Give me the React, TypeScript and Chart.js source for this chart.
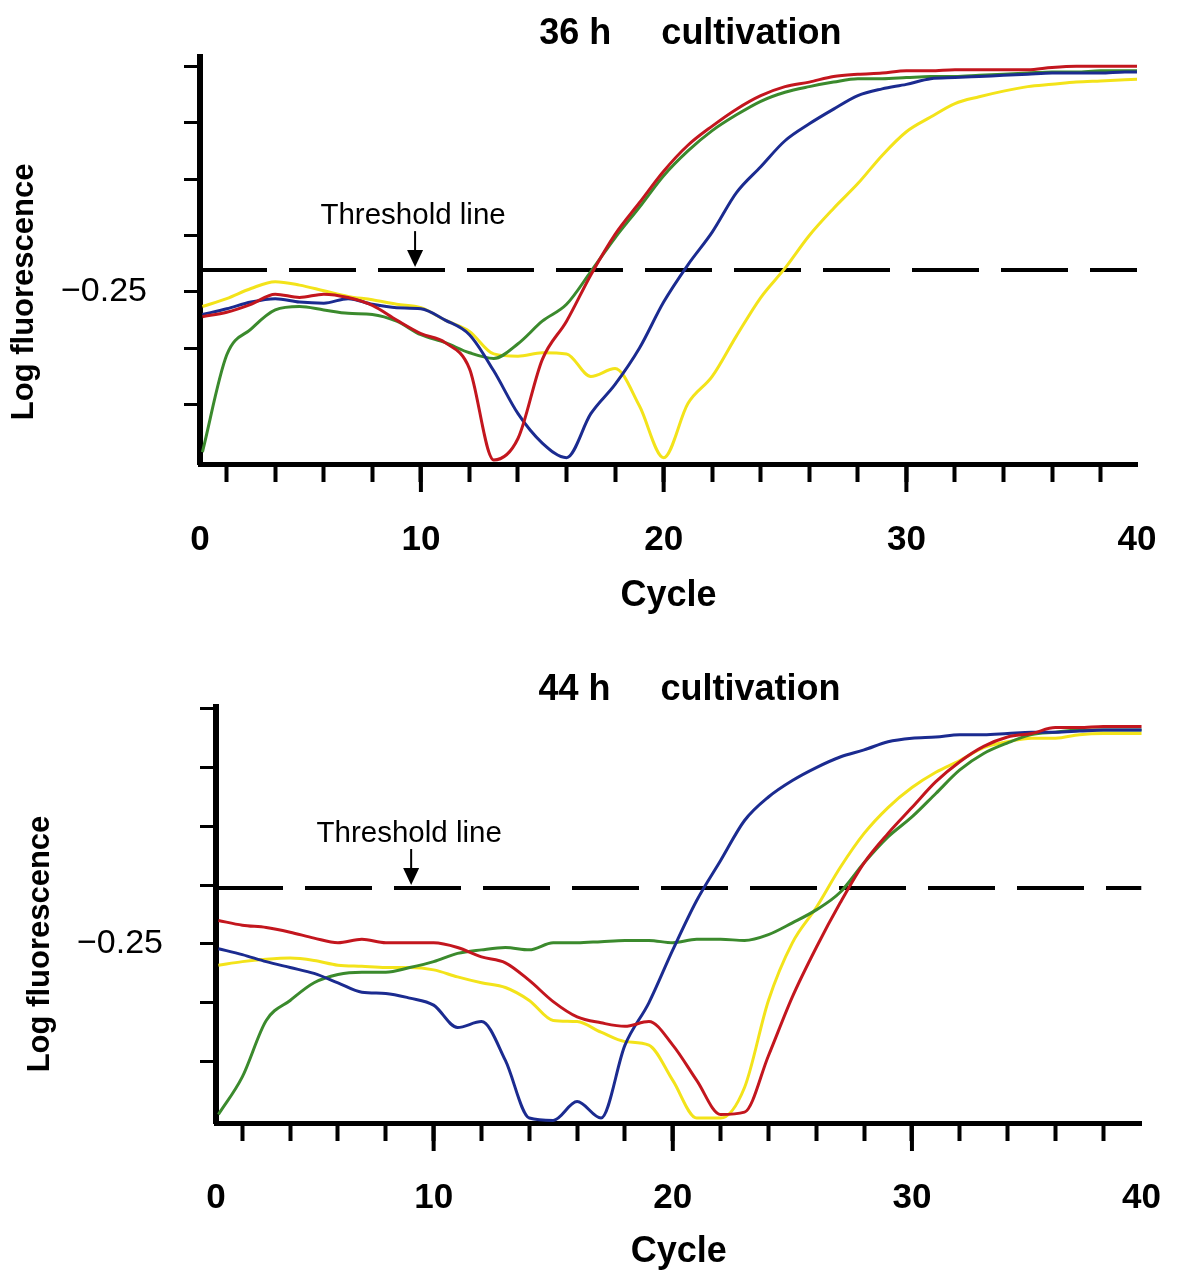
import React, { useEffect, useRef } from 'react';
import { Chart, registerables } from 'chart.js';

Chart.register(...registerables);

const FONT = '"Liberation Sans", Arial, Helvetica, sans-serif';

// ---------- data ----------
const CYCLES = [
  1, 2, 3, 4, 5, 6, 7, 8, 9, 10, 11, 12, 13, 14, 15, 16, 17, 18, 19, 20,
  21, 22, 23, 24, 25, 26, 27, 28, 29, 30, 31, 32, 33, 34, 35, 36, 37, 38, 39, 40,
];

// 36 h cultivation
const TOP_RED = [
  -0.272, -0.268, -0.261, -0.252, -0.255, -0.252, -0.255, -0.262, -0.275, -0.287,
  -0.295, -0.318, -0.399, -0.38, -0.31, -0.276, -0.235, -0.199, -0.171, -0.143,
  -0.12, -0.103, -0.088, -0.076, -0.068, -0.064, -0.059, -0.057, -0.056, -0.054,
  -0.054, -0.053, -0.053, -0.053, -0.053, -0.051, -0.05, -0.05, -0.05, -0.05,
];
const TOP_GREEN = [
  -0.392, -0.306, -0.283, -0.266, -0.263, -0.266, -0.269, -0.27, -0.276, -0.288,
  -0.295, -0.304, -0.309, -0.296, -0.276, -0.261, -0.232, -0.202, -0.175, -0.147,
  -0.125, -0.107, -0.093, -0.081, -0.073, -0.068, -0.064, -0.061, -0.061, -0.06,
  -0.059, -0.059, -0.058, -0.057, -0.056, -0.055, -0.055, -0.054, -0.054, -0.054,
];
const TOP_BLUE = [
  -0.27, -0.265, -0.259, -0.256, -0.259, -0.26, -0.256, -0.261, -0.264, -0.265,
  -0.275, -0.288, -0.32, -0.358, -0.384, -0.397, -0.358, -0.332, -0.3, -0.259,
  -0.226, -0.197, -0.162, -0.139, -0.116, -0.101, -0.088, -0.076, -0.07, -0.066,
  -0.061, -0.06, -0.059, -0.058, -0.057, -0.056, -0.056, -0.056, -0.055, -0.055,
];
const TOP_YELLOW = [
  -0.263, -0.256, -0.247, -0.241, -0.244, -0.249, -0.254, -0.257, -0.261, -0.264,
  -0.275, -0.285, -0.305, -0.307, -0.304, -0.305, -0.325, -0.318, -0.351, -0.397,
  -0.349, -0.325, -0.289, -0.255, -0.229, -0.2, -0.176, -0.154, -0.129, -0.108,
  -0.095, -0.083, -0.077, -0.072, -0.068, -0.066, -0.064, -0.063, -0.062, -0.061,
];

// 44 h cultivation
const BOTTOM_RED = [
  -0.23, -0.234, -0.236, -0.24, -0.245, -0.249, -0.246, -0.249, -0.249, -0.249,
  -0.253, -0.261, -0.266, -0.281, -0.299, -0.312, -0.317, -0.32, -0.316, -0.336,
  -0.366, -0.395, -0.393, -0.345, -0.295, -0.253, -0.215, -0.181, -0.156, -0.134,
  -0.112, -0.095, -0.082, -0.074, -0.071, -0.066, -0.066, -0.065, -0.065, -0.065,
];
const BOTTOM_GREEN = [
  -0.395, -0.363, -0.315, -0.298, -0.283, -0.276, -0.274, -0.274, -0.27, -0.265,
  -0.258, -0.255, -0.253, -0.255, -0.249, -0.249, -0.248, -0.247, -0.247, -0.249,
  -0.246, -0.246, -0.247, -0.242, -0.232, -0.221, -0.206, -0.181, -0.159, -0.142,
  -0.122, -0.102, -0.088, -0.079, -0.072, -0.07, -0.068, -0.068, -0.068, -0.068,
];
const BOTTOM_BLUE = [
  -0.254, -0.259, -0.265, -0.27, -0.275, -0.283, -0.291, -0.292, -0.296, -0.302,
  -0.321, -0.316, -0.349, -0.398, -0.4, -0.384, -0.398, -0.336, -0.3, -0.255,
  -0.213, -0.179, -0.145, -0.125, -0.111, -0.1, -0.091, -0.085, -0.078, -0.075,
  -0.074, -0.072, -0.072, -0.071, -0.07, -0.07, -0.069, -0.068, -0.068, -0.068,
];
const BOTTOM_YELLOW = [
  -0.268, -0.265, -0.263, -0.262, -0.264, -0.268, -0.269, -0.27, -0.27, -0.272,
  -0.278, -0.283, -0.287, -0.298, -0.315, -0.316, -0.325, -0.333, -0.336, -0.366,
  -0.398, -0.398, -0.372, -0.298, -0.249, -0.219, -0.185, -0.156, -0.134, -0.117,
  -0.104, -0.094, -0.083, -0.078, -0.075, -0.075, -0.072, -0.071, -0.071, -0.071,
];

const TOP_THRESHOLD = -0.2307;
const BOTTOM_THRESHOLD = -0.2024;

const X_MINOR_TICKS = [2, 4, 6, 8, 10, 12, 14, 16, 18, 20, 22, 24, 26, 28, 30, 32, 34, 36, 38];
const X_MAJOR_TICKS = [10, 20, 30];
const X_FIRST_LABEL = '0';
const X_LAST_LABEL = '40';
const Y_TICKS = [-0.35, -0.3, -0.25, -0.2, -0.15, -0.1, -0.05];
const Y_LABELED_TICK = -0.25;
const Y_LABEL_TEXT = '\u22120.25';

const X_TITLE = 'Cycle';
const Y_TITLE = 'Log fluorescence';
const THRESHOLD_TEXT = 'Threshold line';

const COLORS = {
  red: '#c3161e',
  green: '#3b8a2d',
  blue: '#1b2b90',
  yellow: '#f3e31a',
};

type PanelCfg = {
  top: number;
  height: number;
  title: string;
  titleX: number;
  titleDy: number;
  xMin: number;
  xMax: number;
  yMin: number;
  yMax: number;
  threshold: number;
  arrowX: number;
  padTop: number;
  padRight: number;
  yWidth: number;
  xHeight: number;
  xTickPad: number;
  xTitlePadBottom: number;
  red: number[];
  green: number[];
  blue: number[];
  yellow: number[];
};

const PANELS: PanelCfg[] = [
  {
    top: 0,
    height: 640,
    title: '36 h     cultivation',
    titleX: 21.1,
    titleDy: -13,
    xMin: 0.9,
    xMax: 39.5,
    yMin: -0.4026,
    yMax: -0.0421,
    threshold: TOP_THRESHOLD,
    arrowX: 9.76,
    padTop: 53,
    padRight: 60,
    yWidth: 200,
    xHeight: 176,
    xTickPad: 37,
    xTitlePadBottom: 22,
    red: TOP_RED,
    green: TOP_GREEN,
    blue: TOP_BLUE,
    yellow: TOP_YELLOW,
  },
  {
    top: 640,
    height: 631,
    title: '44 h     cultivation',
    titleX: 20.7,
    titleDy: -7,
    xMin: 0.9,
    xMax: 39.6,
    yMin: -0.4022,
    yMax: -0.0485,
    threshold: BOTTOM_THRESHOLD,
    arrowX: 9.06,
    padTop: 67,
    padRight: 42,
    yWidth: 216,
    xHeight: 148,
    xTickPad: 36,
    xTitlePadBottom: -3,
    red: BOTTOM_RED,
    green: BOTTOM_GREEN,
    blue: BOTTOM_BLUE,
    yellow: BOTTOM_YELLOW,
  },
];

const near = (a: number, b: number) => Math.abs(a - b) < 1e-6;

const decorPlugin = {
  id: 'decor',
  afterDraw(chart: any, _args: any, opts: any) {
    const { ctx, chartArea } = chart;
    const xs = chart.scales.x;
    const ys = chart.scales.y;
    ctx.save();
    // long major ticks on the cycle axis
    ctx.strokeStyle = '#000';
    ctx.lineWidth = 4;
    for (const v of X_MAJOR_TICKS) {
      const px = xs.getPixelForValue(v);
      ctx.beginPath();
      ctx.moveTo(px, chartArea.bottom);
      ctx.lineTo(px, chartArea.bottom + 28);
      ctx.stroke();
    }
    // panel title
    ctx.fillStyle = '#000';
    ctx.font = `bold 36px ${FONT}`;
    ctx.textAlign = 'center';
    ctx.textBaseline = 'alphabetic';
    ctx.fillText(opts.title, xs.getPixelForValue(opts.titleX), chartArea.top + opts.titleDy);
    // y axis title, centred on the -0.25 level
    ctx.save();
    ctx.translate(chartArea.left - 167, ys.getPixelForValue(Y_LABELED_TICK));
    ctx.rotate(-Math.PI / 2);
    ctx.font = `bold 31px ${FONT}`;
    ctx.textAlign = 'center';
    ctx.fillText(Y_TITLE, 0, 0);
    ctx.restore();
    // threshold annotation
    const ax = xs.getPixelForValue(opts.arrowX);
    const ty = ys.getPixelForValue(opts.threshold);
    ctx.font = `29.5px ${FONT}`;
    ctx.textAlign = 'center';
    ctx.fillText(THRESHOLD_TEXT, ax - 2, ty - 46);
    ctx.lineWidth = 2;
    ctx.beginPath();
    ctx.moveTo(ax, ty - 39);
    ctx.lineTo(ax, ty - 16);
    ctx.stroke();
    ctx.beginPath();
    ctx.moveTo(ax - 8, ty - 20);
    ctx.lineTo(ax + 8, ty - 20);
    ctx.lineTo(ax, ty - 3);
    ctx.closePath();
    ctx.fill();
    ctx.restore();
  },
};

function Panel({ cfg }: { cfg: PanelCfg }) {
  const ref = useRef<HTMLCanvasElement | null>(null);
  useEffect(() => {
    if (!ref.current) return;
    const pts = (arr: number[]) => CYCLES.map((c, i) => ({ x: c, y: arr[i] }));
    const series = (label: string, arr: number[], color: string) => ({
      label,
      data: pts(arr),
      borderColor: color,
      backgroundColor: color,
      borderWidth: 3,
      pointRadius: 0,
      cubicInterpolationMode: 'monotone' as const,
      fill: false,
    });
    const chart = new Chart(ref.current, {
      type: 'line',
      data: {
        datasets: [
          series('red', cfg.red, COLORS.red),
          series('blue', cfg.blue, COLORS.blue),
          series('green', cfg.green, COLORS.green),
          series('yellow', cfg.yellow, COLORS.yellow),
          {
            label: 'threshold',
            data: [
              { x: cfg.xMin, y: cfg.threshold },
              { x: cfg.xMax, y: cfg.threshold },
            ],
            borderColor: '#000',
            borderWidth: 4,
            borderDash: [67, 22],
            pointRadius: 0,
            fill: false,
          },
        ],
      },
      options: {
        responsive: false,
        animation: false,
        events: [],
        devicePixelRatio: 1,
        layout: { padding: { top: cfg.padTop, right: cfg.padRight, bottom: 0, left: 0 } },
        plugins: {
          legend: { display: false },
          title: { display: false },
          tooltip: { enabled: false },
          decor: { title: cfg.title, titleX: cfg.titleX, titleDy: cfg.titleDy, threshold: cfg.threshold, arrowX: cfg.arrowX },
        } as any,
        scales: {
          x: {
            type: 'linear',
            min: cfg.xMin,
            max: cfg.xMax,
            afterBuildTicks: (scale: any) => {
              scale.ticks = [cfg.xMin, ...X_MINOR_TICKS, cfg.xMax].map((v) => ({ value: v }));
            },
            afterFit: (scale: any) => {
              scale.height = cfg.xHeight;
            },
            ticks: {
              autoSkip: false,
              maxRotation: 0,
              minRotation: 0,
              padding: cfg.xTickPad,
              color: '#000',
              font: { family: FONT, size: 35, weight: 'bold' },
              callback: (v: any) => {
                const n = Number(v);
                if (near(n, cfg.xMin)) return X_FIRST_LABEL;
                if (near(n, cfg.xMax)) return X_LAST_LABEL;
                return X_MAJOR_TICKS.some((m) => near(m, n)) ? String(n) : '';
              },
            },
            grid: {
              display: true,
              drawOnChartArea: false,
              drawTicks: true,
              tickLength: 18,
              tickWidth: 4,
              tickColor: (ctx: any) =>
                ctx.tick && (near(ctx.tick.value, cfg.xMax) || near(ctx.tick.value, cfg.xMin))
                  ? 'rgba(0,0,0,0)'
                  : '#000',
            },
            border: { display: true, color: '#000', width: 5 },
            title: {
              display: true,
              text: X_TITLE,
              color: '#000',
              font: { family: FONT, size: 36, weight: 'bold' },
              padding: { top: 0, bottom: cfg.xTitlePadBottom },
            },
          },
          y: {
            type: 'linear',
            min: cfg.yMin,
            max: cfg.yMax,
            afterBuildTicks: (scale: any) => {
              scale.ticks = Y_TICKS.map((v) => ({ value: v }));
            },
            afterFit: (scale: any) => {
              scale.width = cfg.yWidth;
            },
            ticks: {
              padding: 37,
              color: '#000',
              font: { family: FONT, size: 34 },
              callback: (v: any) => (near(Number(v), Y_LABELED_TICK) ? Y_LABEL_TEXT : ''),
            },
            grid: {
              display: true,
              drawOnChartArea: false,
              drawTicks: true,
              tickLength: 16,
              tickWidth: 3,
              tickColor: '#000',
            },
            border: { display: true, color: '#000', width: 6 },
          },
        },
      } as any,
      plugins: [decorPlugin as any],
    });
    return () => chart.destroy();
  }, [cfg]);
  return (
    <canvas
      ref={ref}
      width={1197}
      height={cfg.height}
      style={{ position: 'absolute', left: 0, top: cfg.top, width: 1197, height: cfg.height }}
    />
  );
}

export default function App() {
  return (
    <div style={{ position: 'absolute', left: 0, top: 0, width: 1197, height: 1271, background: '#fff', overflow: 'hidden' }}>
      {PANELS.map((p) => (
        <Panel key={p.title} cfg={p} />
      ))}
    </div>
  );
}
